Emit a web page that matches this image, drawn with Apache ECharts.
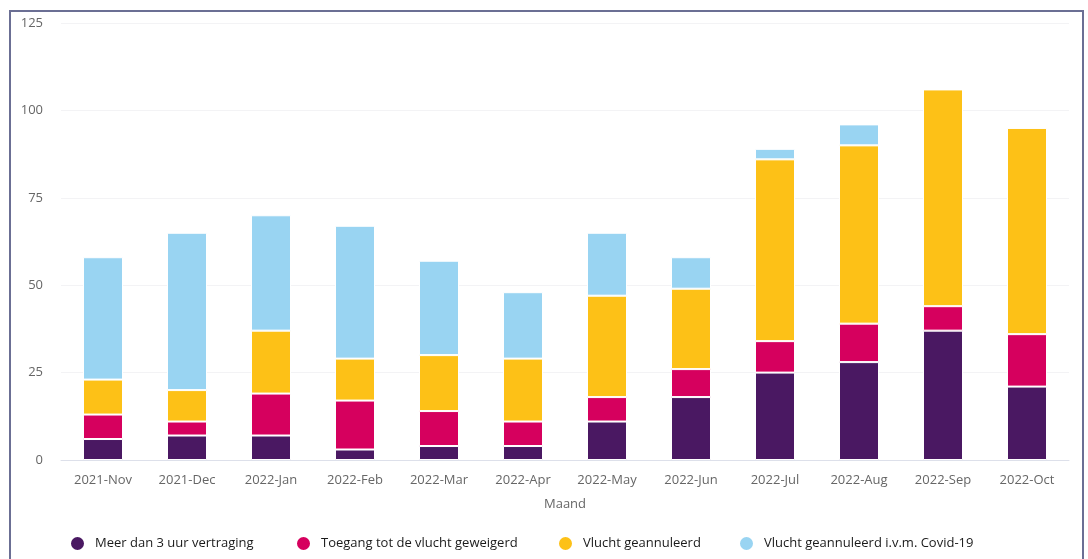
<!DOCTYPE html>
<html>
<head>
<meta charset="utf-8">
<script src="https://cdn.jsdelivr.net/npm/echarts@6/dist/echarts.min.js"></script>
<style>
html,body{margin:0;padding:0;background:#fff;}
#frame{position:absolute;left:9px;top:10px;width:1075px;height:560px;border:2px solid #6b6f94;border-bottom:none;box-sizing:border-box;}
#chart{position:absolute;left:0;top:0;width:1088px;height:559px;}
</style>
</head>
<body>
<div id="frame"></div>
<div id="chart"></div>
<script>
const categories = ['2021-Nov','2021-Dec','2022-Jan','2022-Feb','2022-Mar','2022-Apr','2022-May','2022-Jun','2022-Jul','2022-Aug','2022-Sep','2022-Oct'];
const seriesNames = ['Meer dan 3 uur vertraging','Toegang tot de vlucht geweigerd','Vlucht geannuleerd','Vlucht geannuleerd i.v.m. Covid-19'];
const vertraging = [6, 7, 7, 3, 4, 4, 11, 18, 25, 28, 37, 21];
const geweigerd  = [7, 4, 12, 14, 10, 7, 7, 8, 9, 11, 7, 15];
const geannuleerd = [10, 9, 18, 12, 16, 18, 29, 23, 52, 51, 62, 59];
const covid = [35, 45, 33, 38, 27, 19, 18, 9, 3, 6, 0, 0];
const yTicks = [0, 25, 50, 75, 100, 125];
const colors = ['#4a1862', '#d6005e', '#fdc117', '#99d4f2'];

const legendLeft = [64, 290, 552, 733];
const chart = echarts.init(document.getElementById('chart'));
const dataSets = [vertraging, geweigerd, geannuleerd, covid];
chart.setOption({
  animation: false,
  textStyle: { fontFamily: 'Open Sans, sans-serif' },
  grid: { left: 61, right: 19, top: 23, bottom: 99, containLabel: false },
  legend: seriesNames.map((n, i) => ({
    top: 530, left: legendLeft[i],
    icon: 'circle', itemWidth: 15, itemHeight: 15,
    textStyle: { color: '#1a1a1a', fontSize: 13, fontFamily: 'Open Sans, sans-serif', padding: [0, 0, 0, 5] },
    data: [n]
  })),
  xAxis: {
    type: 'category', data: categories,
    name: 'Maand', nameLocation: 'middle', nameGap: 38,
    nameTextStyle: { color: '#666', fontSize: 13 },
    axisLine: { lineStyle: { color: '#dde0ea' } },
    axisTick: { show: false },
    axisLabel: { color: '#666', fontSize: 13, margin: 14 }
  },
  yAxis: {
    type: 'value', min: yTicks[0], max: yTicks[yTicks.length - 1], interval: 25,
    axisLine: { show: false }, axisTick: { show: false },
    axisLabel: { color: '#666', fontSize: 13, margin: 18 },
    splitLine: { lineStyle: { color: '#f3f3f5' } }
  },
  series: seriesNames.map((n, i) => ({
    name: n, type: 'bar', stack: 'total', barWidth: 40,
    data: dataSets[i],
    itemStyle: { color: colors[i], borderColor: '#fff', borderWidth: 1 }
  }))
});
</script>
</body>
</html>
